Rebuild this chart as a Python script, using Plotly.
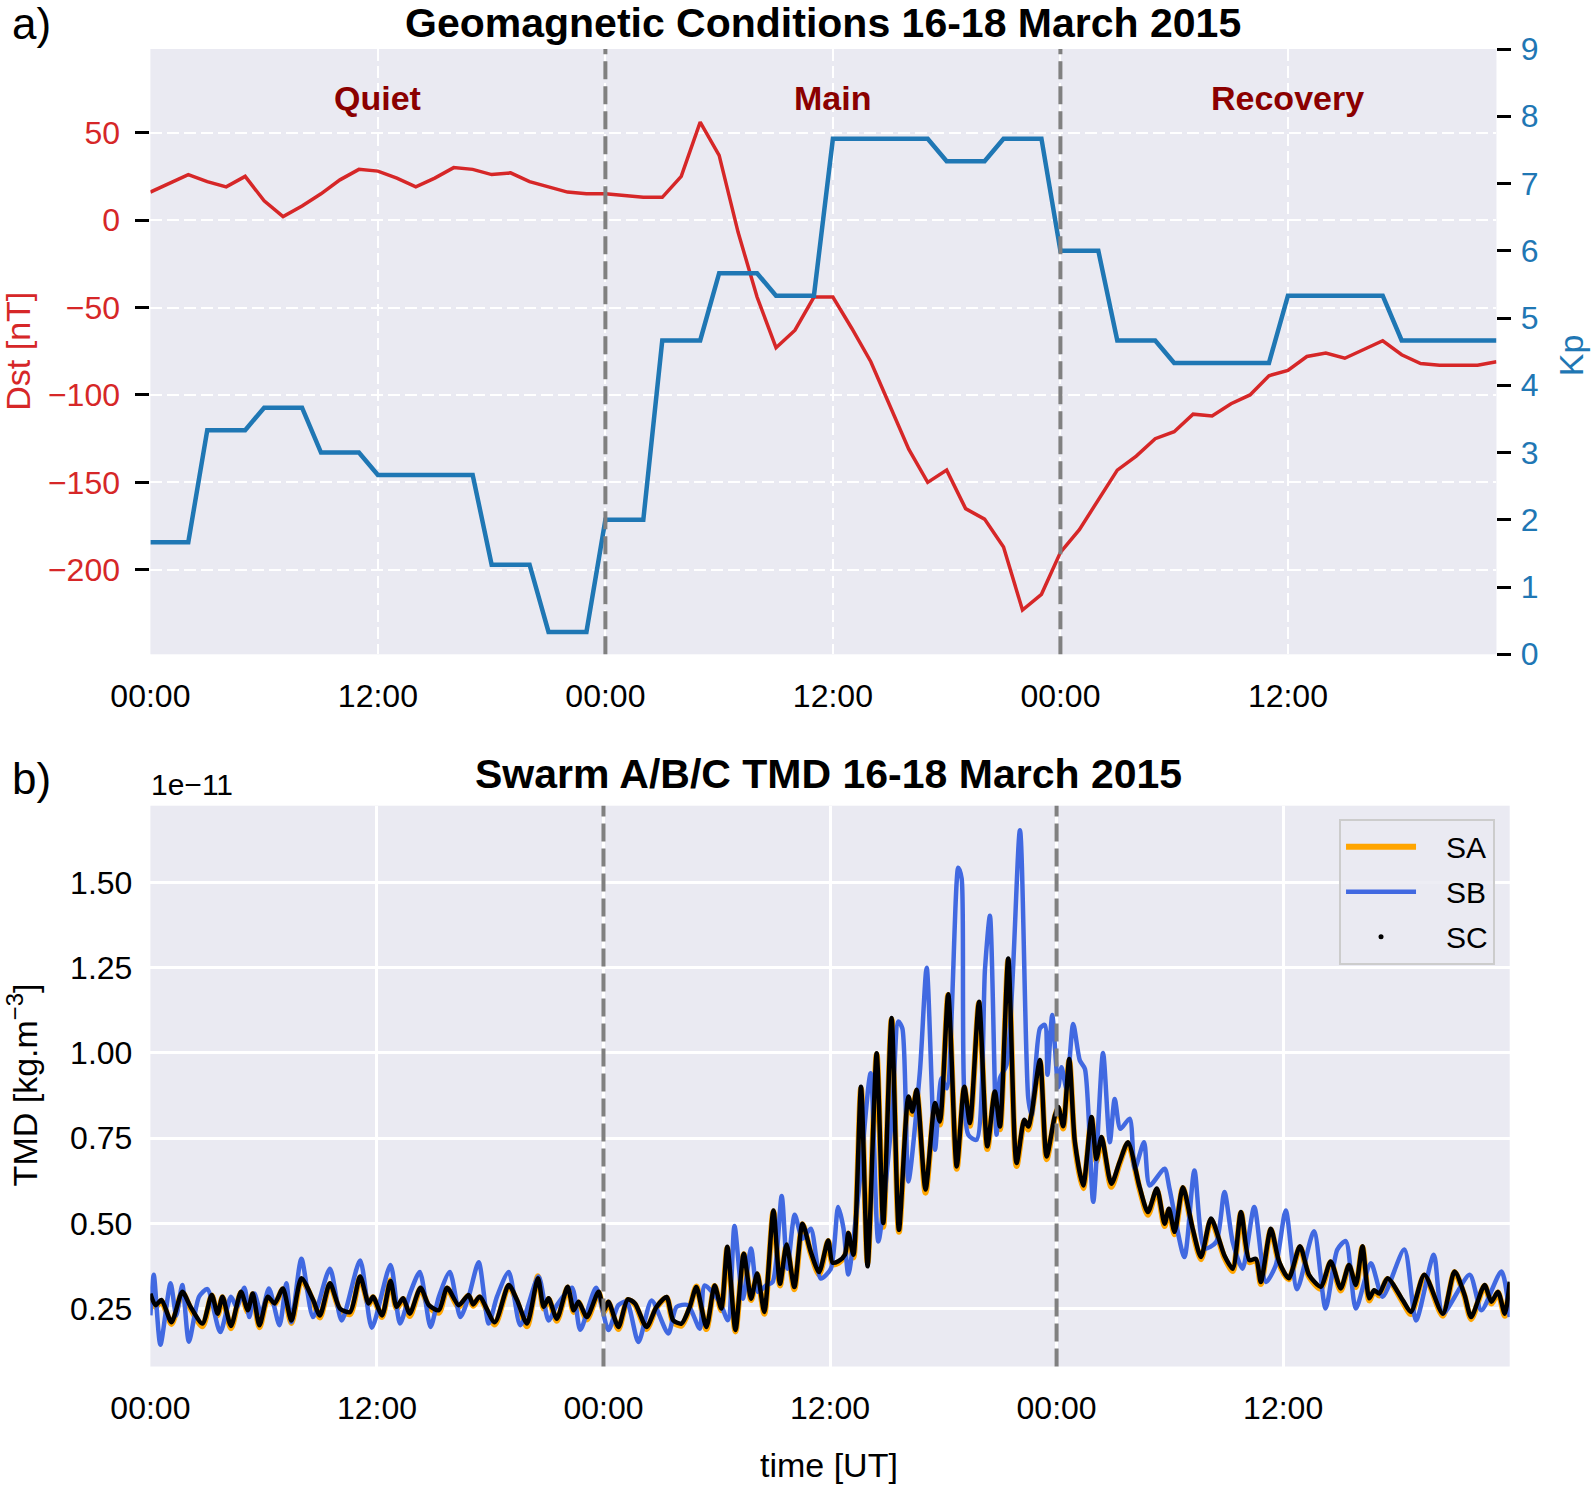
import plotly.graph_objects as go

# ---------------- data: top panel (hourly, hours since 16 March 2015 00:00 UT) ----------------
dst_hours = list(range(72))
dst_nT = [16, 21, 26, 22, 19, 25, 11, 2, 8, 15, 23, 29, 28, 24, 19, 24, 30, 29, 26, 27, 22, 19, 16, 15,
          15, 14, 13, 13, 25, 56, 37, -7, -44, -73, -63, -44, -44, -62, -81, -106, -131, -150, -143, -165, -171, -187, -223, -214,
          -190, -177, -160, -143, -135, -125, -121, -111, -112, -105, -100, -89, -86, -78, -76, -79, -74, -69, -77, -82, -83, -83, -83, -81]
kp_hours = list(range(72))
kp_index = [1.667, 1.667, 1.667, 3.333, 3.333, 3.333, 3.667, 3.667, 3.667, 3.0, 3.0, 3.0,
            2.667, 2.667, 2.667, 2.667, 2.667, 2.667, 1.333, 1.333, 1.333, 0.333, 0.333, 0.333,
            2.0, 2.0, 2.0, 4.667, 4.667, 4.667, 5.667, 5.667, 5.667, 5.333, 5.333, 5.333,
            7.667, 7.667, 7.667, 7.667, 7.667, 7.667, 7.333, 7.333, 7.333, 7.667, 7.667, 7.667,
            6.0, 6.0, 6.0, 4.667, 4.667, 4.667, 4.333, 4.333, 4.333, 4.333, 4.333, 4.333,
            5.333, 5.333, 5.333, 5.333, 5.333, 5.333, 4.667, 4.667, 4.667, 4.667, 4.667, 4.667]

phase_names = ["Quiet", "Main", "Recovery"]
phase_centers = [12, 36, 60]
phase_bounds = [24, 48]

tick_hours = [0, 12, 24, 36, 48, 60]
tick_labels = ["00:00", "12:00", "00:00", "12:00", "00:00", "12:00"]
dst_ticks = [-200, -150, -100, -50, 0, 50]
kp_ticks = [0, 1, 2, 3, 4, 5, 6, 7, 8, 9]
tmd_ticks = [0.25, 0.50, 0.75, 1.00, 1.25, 1.50]

# ---------------- data: bottom panel (TMD in units of 1e-11 kg m^-3) ----------------
sc_time = [0.00, 0.27, 0.59, 1.12, 1.69, 2.13, 2.76, 3.25, 3.56, 3.82, 4.27, 4.80, 5.16, 5.42, 5.78, 6.22, 6.58, 7.02, 7.47, 8.00, 8.62, 8.98, 9.51, 10.04, 10.58, 11.11, 11.56, 11.79, 12.27,
           12.72, 13.04, 13.39, 13.74, 14.31, 14.75, 15.28, 15.72, 16.33, 16.85, 17.10, 17.44, 18.24, 18.98, 19.42, 19.95, 20.53, 20.83, 21.09, 21.53, 22.10, 22.42, 22.68, 23.12, 23.74, 24.02,
           24.26, 24.79, 25.28, 25.67, 26.28, 26.81, 27.34, 27.69, 28.13, 28.57, 28.92, 29.45, 29.89, 30.24, 30.56, 30.99, 31.43, 31.82, 32.14, 32.52, 33.00, 33.35, 33.70, 34.11, 34.54, 34.98, 35.42, 35.90, 36.13,
           36.44, 36.79, 36.97, 37.24, 37.64, 37.99, 38.47, 38.82, 39.26, 39.65, 40.15, 40.36, 40.59, 41.06, 41.56, 41.82, 42.26, 42.71, 43.11, 43.41, 43.89, 44.33, 44.73, 45.00, 45.44, 45.88, 46.29, 46.50, 46.68, 47.12, 47.47,
           47.91, 48.09, 48.35, 48.67, 48.97, 49.41, 49.85, 50.11, 50.38, 50.90, 51.34, 51.78, 52.40, 52.84, 53.31, 53.72, 53.95, 54.25, 54.69, 55.21, 55.65, 56.18, 56.89, 57.33, 57.77, 58.21, 58.56, 58.82, 59.35, 59.79,
           60.30, 60.89, 61.37, 61.99, 62.52, 63.05, 63.49, 63.85, 64.20, 64.56, 64.82, 65.09, 65.53, 66.33, 66.77, 67.48, 68.46, 69.08, 69.61, 69.96, 70.67, 71.03, 71.38, 71.74, 72.00]
sc_tmd = [0.294, 0.260, 0.275, 0.210, 0.299, 0.255, 0.206, 0.290, 0.235, 0.285, 0.199, 0.299, 0.245, 0.294, 0.201, 0.285, 0.265, 0.309, 0.215, 0.339, 0.275, 0.230, 0.324, 0.250, 0.240, 0.344, 0.265, 0.285, 0.230,
          0.331, 0.255, 0.280, 0.235, 0.311, 0.260, 0.245, 0.311, 0.260, 0.290, 0.262, 0.285, 0.210, 0.319, 0.275, 0.206, 0.339, 0.255, 0.280, 0.220, 0.314, 0.245, 0.270, 0.225, 0.299, 0.245,
          0.270, 0.196, 0.277, 0.265, 0.196, 0.255, 0.284, 0.216, 0.206, 0.255, 0.313, 0.196, 0.318, 0.250, 0.431, 0.187, 0.411, 0.279, 0.353, 0.240, 0.538, 0.323, 0.438, 0.313, 0.499, 0.416, 0.357, 0.450, 0.385,
          0.389, 0.408, 0.472, 0.408, 0.901, 0.374, 0.999, 0.501, 1.102, 0.481, 0.872, 0.828, 0.892, 0.599, 0.853, 0.799, 1.172, 0.667, 0.901, 0.794, 1.150, 0.726, 0.887, 0.784, 1.277, 0.677, 0.804, 0.784, 0.823, 0.979, 0.696,
          0.816, 0.841, 0.785, 0.982, 0.738, 0.611, 0.812, 0.689, 0.753, 0.616, 0.680, 0.738, 0.606, 0.533, 0.602, 0.499, 0.543, 0.475, 0.606, 0.484, 0.401, 0.514, 0.406, 0.367, 0.533, 0.392, 0.396, 0.328, 0.484, 0.387,
          0.339, 0.433, 0.349, 0.314, 0.388, 0.309, 0.378, 0.319, 0.433, 0.280, 0.304, 0.294, 0.339, 0.275, 0.240, 0.349, 0.235, 0.359, 0.290, 0.225, 0.319, 0.270, 0.299, 0.235, 0.329]
sa_tmd = [0.290, 0.255, 0.272, 0.205, 0.297, 0.250, 0.198, 0.288, 0.230, 0.283, 0.192, 0.297, 0.240, 0.292, 0.195, 0.283, 0.262, 0.307, 0.208, 0.335, 0.272, 0.224, 0.322, 0.246, 0.234, 0.342, 0.262, 0.283, 0.225,
          0.333, 0.250, 0.278, 0.228, 0.309, 0.255, 0.238, 0.309, 0.255, 0.288, 0.258, 0.283, 0.203, 0.317, 0.270, 0.198, 0.345, 0.250, 0.278, 0.214, 0.312, 0.240, 0.268, 0.218, 0.297, 0.240,
          0.268, 0.190, 0.275, 0.262, 0.190, 0.253, 0.282, 0.210, 0.200, 0.252, 0.315, 0.190, 0.316, 0.245, 0.428, 0.183, 0.409, 0.275, 0.350, 0.235, 0.535, 0.318, 0.436, 0.307, 0.497, 0.412, 0.350, 0.448, 0.380,
          0.384, 0.404, 0.470, 0.400, 0.895, 0.385, 0.995, 0.490, 1.098, 0.475, 0.868, 0.820, 0.889, 0.590, 0.850, 0.790, 1.170, 0.660, 0.898, 0.786, 1.146, 0.718, 0.884, 0.776, 1.272, 0.668, 0.800, 0.775, 0.820, 0.975, 0.688,
          0.812, 0.838, 0.778, 0.978, 0.730, 0.603, 0.808, 0.682, 0.750, 0.607, 0.676, 0.735, 0.600, 0.525, 0.598, 0.492, 0.540, 0.468, 0.603, 0.478, 0.395, 0.510, 0.400, 0.360, 0.530, 0.386, 0.392, 0.322, 0.481, 0.382,
          0.336, 0.430, 0.344, 0.308, 0.386, 0.303, 0.376, 0.313, 0.430, 0.274, 0.301, 0.288, 0.337, 0.270, 0.234, 0.347, 0.229, 0.357, 0.286, 0.219, 0.317, 0.265, 0.297, 0.229, 0.324]
sb_time = [0.00, 0.18, 0.53, 1.07, 1.37, 1.69, 2.04, 2.58, 3.02, 3.70, 4.27, 4.57, 4.98, 5.24, 5.51, 5.87, 6.28, 6.84, 7.20, 7.47, 8.00, 8.62, 9.51, 10.13, 11.11, 11.73,
           12.72, 13.22, 13.78, 14.27, 14.84, 15.28, 15.86, 16.42, 16.86, 17.39, 17.92, 18.36, 18.98, 19.60, 20.56, 21.09, 21.53, 22.33, 22.77, 23.61, 24.26,
           24.79, 25.23, 25.85, 26.55, 27.43, 27.87, 28.48, 29.10, 29.36, 30.15, 30.59, 30.94, 31.38, 31.82, 32.18, 32.61, 32.96, 33.44, 33.74, 34.13, 34.54, 34.98, 35.51, 36.04, 36.43,
           36.71, 36.97, 37.50, 38.15, 38.56, 39.26, 39.62, 39.83, 40.15, 40.76, 41.12, 41.56, 41.91, 42.18, 42.79, 42.97, 43.32, 43.76, 44.21, 44.47, 44.82, 45.00, 45.35, 46.06, 46.50, 46.68, 47.12, 47.38, 47.52, 47.77,
           48.09, 48.26, 48.53, 48.88, 49.23, 49.50, 49.94, 50.46, 50.82, 51.08, 51.38, 51.87, 52.14, 52.63, 52.93, 53.72, 53.98, 54.77, 55.30, 55.83, 56.45, 56.89, 57.33, 57.85, 58.47, 59.09, 59.61, 60.14,
           60.74, 61.63, 62.25, 62.87, 63.32, 63.85, 64.65, 65.27, 66.42, 67.04, 67.98, 68.46, 69.88, 70.50, 71.56, 72.00]
sb_tmd = [0.230, 0.349, 0.144, 0.324, 0.230, 0.319, 0.153, 0.285, 0.307, 0.181, 0.285, 0.255, 0.311, 0.225, 0.294, 0.235, 0.309, 0.201, 0.324, 0.210, 0.396, 0.225, 0.367, 0.215, 0.391, 0.194,
          0.378, 0.206, 0.299, 0.357, 0.196, 0.285, 0.357, 0.225, 0.285, 0.386, 0.206, 0.285, 0.357, 0.201, 0.344, 0.215, 0.260, 0.311, 0.188, 0.311, 0.187,
          0.260, 0.270, 0.152, 0.274, 0.177, 0.255, 0.260, 0.191, 0.318, 0.270, 0.216, 0.492, 0.279, 0.426, 0.299, 0.318, 0.328, 0.580, 0.367, 0.525, 0.455, 0.484, 0.338, 0.367, 0.548,
          0.486, 0.350, 0.584, 0.940, 0.447, 0.799, 1.092, 1.072, 0.623, 0.945, 1.250, 0.716, 0.926, 0.896, 1.543, 1.512, 0.760, 0.745, 1.248, 1.402, 0.760, 0.926, 0.965, 1.653, 0.867, 0.818, 1.072, 1.082, 0.936, 1.111,
          0.899, 0.958, 0.895, 1.085, 0.978, 0.953, 0.563, 1.000, 0.738, 0.865, 0.777, 0.807, 0.660, 0.738, 0.611, 0.660, 0.602, 0.401, 0.655, 0.426, 0.445, 0.592, 0.445, 0.367, 0.548, 0.328, 0.377, 0.538,
          0.307, 0.477, 0.250, 0.423, 0.448, 0.250, 0.383, 0.285, 0.423, 0.215, 0.408, 0.235, 0.349, 0.245, 0.359, 0.225]

assert len(sc_time) == len(sc_tmd) == len(sa_tmd), (len(sc_time), len(sc_tmd), len(sa_tmd))
assert len(sb_time) == len(sb_tmd), (len(sb_time), len(sb_tmd))

# ---------------- styling ----------------
FONT = "Liberation Sans, Arial, Helvetica, sans-serif"
RED = "#d62728"
BLUE = "#1f77b4"
DARKRED = "#8b0000"
BG = "#eaeaf2"
NB = "\u00a0\u00a0\u00a0"

fig = go.Figure()

# top panel
fig.add_trace(go.Scatter(x=dst_hours, y=dst_nT, mode="lines", line=dict(color=RED, width=3.5),
                         xaxis="x", yaxis="y", showlegend=False, hoverinfo="skip"))
fig.add_trace(go.Scatter(x=kp_hours, y=kp_index, mode="lines", line=dict(color=BLUE, width=4.5),
                         xaxis="x", yaxis="y2", showlegend=False, hoverinfo="skip"))

# bottom panel
fig.add_trace(go.Scatter(x=sc_time, y=sa_tmd, mode="lines", name=NB + "SA", legendgroup="sa",
                         line=dict(color="#ffa500", width=6, shape="spline", smoothing=0.7),
                         xaxis="x2", yaxis="y3"))
fig.add_trace(go.Scatter(x=sb_time, y=sb_tmd, mode="lines", name=NB + "SB", legendgroup="sb",
                         line=dict(color="#4169e1", width=4.5, shape="spline", smoothing=0.7),
                         xaxis="x2", yaxis="y3"))
fig.add_trace(go.Scatter(x=sc_time, y=sc_tmd, mode="lines", name="SC", legendgroup="sc", showlegend=False,
                         line=dict(color="black", width=4.5, shape="spline", smoothing=0.7),
                         xaxis="x2", yaxis="y3"))
fig.add_trace(go.Scatter(x=[None], y=[None], mode="markers", name=NB + "SC", legendgroup="sc",
                         marker=dict(color="black", size=5), xaxis="x2", yaxis="y3"))

grid_dash_top = "12px,5px"
fig.update_layout(
    width=1593, height=1486,
    margin=dict(l=0, r=0, t=0, b=0, autoexpand=False),
    paper_bgcolor="white", plot_bgcolor=BG,
    font=dict(family=FONT, size=31, color="black"),
    xaxis=dict(domain=[0.0944, 0.9394], range=[0, 71], anchor="y", automargin=False,
               tickmode="array", tickvals=tick_hours, ticktext=tick_labels,
               showgrid=True, gridcolor="white", gridwidth=2, griddash=grid_dash_top,
               zeroline=False, showline=False, ticks="", ticklabelstandoff=20,
               tickfont=dict(size=32, color="black")),
    yaxis=dict(domain=[0.5597, 0.9670], range=[-248.3, 97.8], anchor="x", automargin=False,
               tickmode="array", tickvals=dst_ticks, ticktext=[f"{v:d}".replace("-", "\u2212") for v in dst_ticks],
               showgrid=True, gridcolor="white", gridwidth=2, griddash=grid_dash_top,
               zeroline=False, showline=False,
               ticks="outside", ticklen=14, tickwidth=3, tickcolor="black", ticklabelstandoff=9,
               tickfont=dict(size=32, color=RED)),
    yaxis2=dict(overlaying="y", side="right", anchor="x", range=[0, 9], automargin=False,
                tickmode="array", tickvals=kp_ticks, ticktext=[str(v) for v in kp_ticks],
                showgrid=False, zeroline=False, showline=False,
                ticks="outside", ticklen=14, tickwidth=3, tickcolor="black", ticklabelstandoff=3,
                tickfont=dict(size=32, color=BLUE)),
    xaxis2=dict(domain=[0.0944, 0.9477], range=[0, 72], anchor="y3", automargin=False,
                tickmode="array", tickvals=tick_hours, ticktext=tick_labels,
                showgrid=True, gridcolor="white", gridwidth=2.5,
                zeroline=False, showline=False, ticks="", ticklabelstandoff=19,
                tickfont=dict(size=32, color="black")),
    yaxis3=dict(domain=[0.0804, 0.4578], range=[0.08, 1.725], anchor="x2", automargin=False,
                tickmode="array", tickvals=tmd_ticks, ticktext=[f"{v:.2f}" for v in tmd_ticks],
                showgrid=True, gridcolor="white", gridwidth=2.5,
                zeroline=False, showline=False, ticks="", ticklabelstandoff=17,
                tickfont=dict(size=32, color="black")),
    legend=dict(x=0.9385, y=0.4490, xanchor="right", yanchor="top",
                bgcolor="rgba(234,234,242,0.85)", bordercolor="#cccccc", borderwidth=2,
                font=dict(size=30, color="black"), itemwidth=70, tracegroupgap=3),
)

# phase boundaries (vertical dashed lines) on both panels
for b in phase_bounds:
    fig.add_shape(type="line", xref="x", yref="y domain", x0=b, x1=b, y0=0, y1=1,
                  line=dict(color="#808080", width=4, dash="18px,7px"), layer="above")
    fig.add_shape(type="line", xref="x2", yref="y3 domain", x0=b, x1=b, y0=0, y1=1,
                  line=dict(color="#808080", width=4, dash="18px,7px"), layer="above")

# phase labels
for name, c in zip(phase_names, phase_centers):
    fig.add_annotation(x=c, y=70, xref="x", yref="y", text=f"<b>{name}</b>", showarrow=False,
                       font=dict(size=34, color=DARKRED), xanchor="center", yanchor="middle")

ann = [
    dict(x=0.5166, y=0.9845, text="<b>Geomagnetic Conditions 16-18 March 2015</b>", font=dict(size=41), xanchor="center"),
    dict(x=0.5204, y=0.4791, text="<b>Swarm A/B/C TMD 16-18 March 2015</b>", font=dict(size=41), xanchor="center"),
    dict(x=0.0063, y=0.9840, text="a)", font=dict(size=44), xanchor="left"),
    dict(x=0.0063, y=0.4764, text="b)", font=dict(size=44), xanchor="left"),
    dict(x=0.0937, y=0.4722, text="1e\u221211", font=dict(size=30), xanchor="left"),
    dict(x=0.0115, y=0.7635, text="Dst [nT]", font=dict(size=34, color=RED), textangle=-90, xanchor="center"),
    dict(x=0.9860, y=0.7607, text="Kp", font=dict(size=34, color=BLUE), textangle=-90, xanchor="center"),
    dict(x=0.0140, y=0.2698, text="TMD [kg.m<sup>\u22123</sup>]", font=dict(size=34), textangle=-90, xanchor="center"),
    dict(x=0.5204, y=0.0141, text="time [UT]", font=dict(size=34), xanchor="center"),
]
for a in ann:
    f = dict(family=FONT, color="black")
    f.update(a.pop("font"))
    fig.add_annotation(xref="paper", yref="paper", showarrow=False, yanchor="middle", font=f, **a)

fig.write_html("out.html", config={"displayModeBar": False},
               post_script="document.body.style.margin='0px';document.body.style.padding='0px';document.body.style.overflow='hidden';")
